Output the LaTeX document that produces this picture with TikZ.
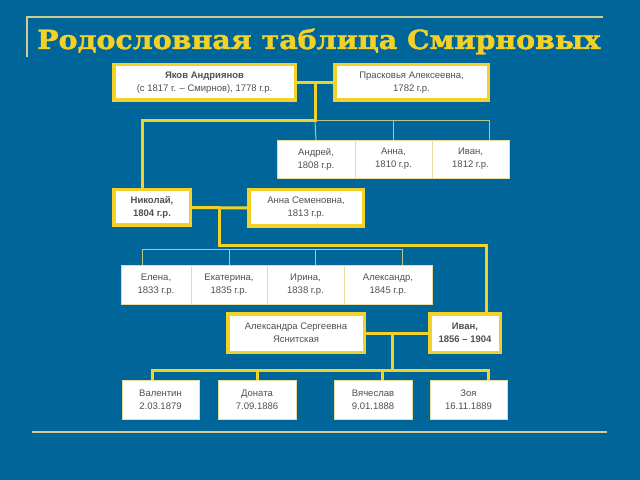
\documentclass[tikz,border=0pt]{standalone}
\usepackage{fontspec}
\setmainfont{Liberation Sans}
\newfontfamily\titlefont[BoldFeatures={FakeBold=1.5}]{DejaVu Serif}
\definecolor{bgblue}{RGB}{0,101,153}
\definecolor{yl}{RGB}{242,210,40}
\definecolor{thinl}{RGB}{190,195,140}
\definecolor{paleline}{RGB}{205,205,150}
\definecolor{txt}{RGB}{80,80,80}
\definecolor{thinbox}{RGB}{230,222,160}
\begin{document}
\begin{tikzpicture}[x=1bp,y=-1bp,
  thick box/.style={draw=yl,line width=3.5bp,fill=white,inner sep=0pt,align=center,
     font=\fontsize{9.5bp}{13bp}\selectfont,text=txt},
  thin box/.style={draw=thinbox,line width=0.8bp,fill=white,inner sep=0pt,align=center,
     font=\fontsize{9.5bp}{13bp}\selectfont,text=txt},
  yline/.style={draw=yl,line width=3bp},
  tline/.style={draw=thinl,line width=1bp},
  frameline/.style={draw=paleline,line width=2bp}]
\fill[bgblue] (0,0) rectangle (640,480);
\useasboundingbox (0,0) rectangle (640,480);
% frame lines
\coordinate (f0) at (27,57);
\coordinate (f1) at (27,17);
\coordinate (f2) at (603,17);
\draw[frameline] (f0) -- (f1) -- (f2);
\coordinate (b0) at (32,432);
\coordinate (b1) at (607,432);
\draw[frameline] (b0) -- (b1);
% title
\node[anchor=base west,inner sep=0pt,text=yl] (title) at (37,49)
  {\resizebox{563bp}{20.5bp}{\titlefont\bfseries Родословная таблица Смирновых}};
% connectors generation 1
\coordinate (j1) at (315,82.5);
\coordinate (j2) at (315,121);
\coordinate (j3) at (142,121);
\coordinate (j4) at (142,188);
\coordinate (t1) at (489,121);
\coordinate (d1) at (316,140);
\coordinate (d2) at (393,140);
\coordinate (d3) at (489,140);
\coordinate (u2) at (393,121);
\draw[tline] (j2) -- (t1) -- (d3);
\draw[tline] (j2) -- (d1);
\draw[tline] (u2) -- (d2);
% generation 2
\coordinate (k1) at (219,207.5);
\coordinate (k2) at (219,245);
\coordinate (k3) at (486,245);
\coordinate (k4) at (486,312);
\coordinate (s0) at (142,249);
\coordinate (s1) at (402,249);
\coordinate (s0d) at (142,265);
\coordinate (s2) at (229,249);
\coordinate (s2d) at (229,265);
\coordinate (s3) at (315,249);
\coordinate (s3d) at (315,265);
\coordinate (s1d) at (402,265);
\draw[tline] (s0d) -- (s0) -- (s1) -- (s1d);
\draw[tline] (s2) -- (s2d);
\draw[tline] (s3) -- (s3d);
% generation 3
\coordinate (m1) at (392,333);
\coordinate (m2) at (392,370);
\coordinate (r0) at (152,370);
\coordinate (r1) at (488,370);
\coordinate (r0d) at (152,381);
\coordinate (r1d) at (488,381);
\coordinate (r2) at (257,370);
\coordinate (r2d) at (257,381);
\coordinate (r3) at (382,370);
\coordinate (r3d) at (382,381);
% yellow lines
\draw[yline] (j1) -- (j2) -- (j3) -- (j4);
\draw[yline] (k1) -- (k2) -- (k3) -- (k4);
\draw[yline] (m1) -- (m2);
\draw[yline] (r0d) -- (r0) -- (r1) -- (r1d);
\draw[yline] (r2) -- (r2d);
\draw[yline] (r3) -- (r3d);
% boxes
\node[thick box,minimum width=181.5bp,minimum height=35.5bp] (yakov) at (204.5,82.5)
  {\textbf{Яков Андриянов}\\(с 1817 г. – Смирнов), 1778 г.р.};
\node[thick box,minimum width=153.5bp,minimum height=35.5bp] (prask) at (411.5,82.5)
  {Прасковья Алексеевна,\\1782 г.р.};
\draw[yline] (yakov.east) -- (prask.west);
\node[thin box,minimum width=78bp,minimum height=38bp] (andrey) at (316,159) {Андрей,\\1808 г.р.};
\node[thin box,minimum width=77bp,minimum height=38bp] (anna1) at (393.5,159) {Анна,\\1810 г.р.};
\node[thin box,minimum width=77bp,minimum height=38bp] (ivan1) at (470.5,159) {Иван,\\1812 г.р.};
\node[thick box,minimum width=76.5bp,minimum height=35.5bp] (nikolai) at (152,207.5)
  {\textbf{Николай,}\\\textbf{1804 г.р.}};
\node[thick box,minimum width=114.5bp,minimum height=36.5bp] (annaS) at (306,208)
  {Анна Семеновна,\\1813 г.р.};
\draw[yline] (nikolai.east) -- (annaS.west);
\node[thin box,minimum width=70bp,minimum height=39bp] (elena) at (156,284.5) {Елена,\\1833 г.р.};
\node[thin box,minimum width=76bp,minimum height=39bp] (ekat) at (229,284.5) {Екатерина,\\1835 г.р.};
\node[thin box,minimum width=77bp,minimum height=39bp] (irina) at (305.5,284.5) {Ирина,\\1838 г.р.};
\node[thin box,minimum width=88bp,minimum height=39bp] (alex) at (388,284.5) {Александр,\\1845 г.р.};
\node[thick box,minimum width=136.5bp,minimum height=38.5bp] (alexandra) at (296,333)
  {Александра Сергеевна\\Яснитская};
\node[thick box,minimum width=70.5bp,minimum height=38.5bp] (ivan2) at (465,333)
  {\textbf{Иван,}\\\textbf{1856 – 1904}};
\draw[yline] (alexandra.east) -- (ivan2.west);
\node[thin box,minimum width=77bp,minimum height=39bp] (valentin) at (160.5,399.5) {Валентин\\2.03.1879};
\node[thin box,minimum width=78bp,minimum height=39bp] (donata) at (257,399.5) {Доната\\7.09.1886};
\node[thin box,minimum width=78bp,minimum height=39bp] (vyach) at (373,399.5) {Вячеслав\\9.01.1888};
\node[thin box,minimum width=77bp,minimum height=39bp] (zoya) at (468.5,399.5) {Зоя\\16.11.1889};
\end{tikzpicture}
\end{document}
